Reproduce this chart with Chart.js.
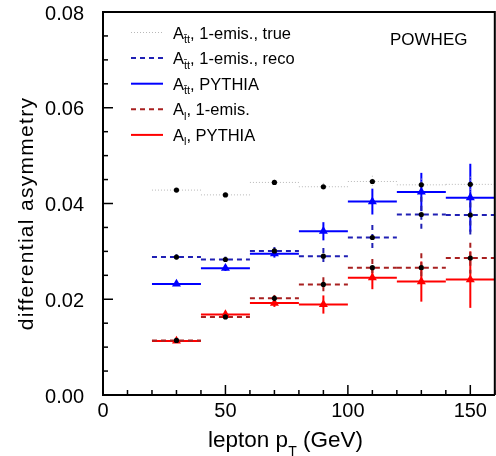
<!DOCTYPE html>
<html lang="en">
<head>
    <meta charset="UTF-8">
    <title>Differential asymmetry vs lepton pT</title>
    <script src="https://cdn.jsdelivr.net/npm/chart.js@4.4.0/dist/chart.umd.min.js"></script>
    <style>
        * {
            margin: 0;
            padding: 0;
            box-sizing: border-box;
        }

        body {
            background: #fff;
            width: 496px;
            height: 456px;
            overflow: hidden;
        }

        .chart-box {
            position: relative;
            width: 500px;
            height: 456px;
        }
    </style>
</head>
<body>
    <div class="chart-box">
        <canvas id="asymChart" width="500" height="456"></canvas>
    </div>

    <script>
        // Bins in lepton pT (GeV)
        const binEdges = [20, 40, 60, 80, 100, 120, 140, 160];
        const binCenters = [30, 50, 70, 90, 110, 130, 150];

        // A_ttbar, 1-emission, true
        const ttTrue = [0.0428, 0.0418, 0.0444, 0.0435, 0.0446, 0.0439, 0.0440];
        const ttTrueErr = [0.0003, 0.0004, 0.0006, 0.0008, 0.0012, 0.0013, 0.0016];
        // A_ttbar, 1-emission, reco
        const ttReco = [0.0288, 0.0283, 0.0301, 0.0290, 0.0329, 0.0377, 0.0376];
        const ttRecoErr = [0.0006, 0.0006, 0.0008, 0.0017, 0.0026, 0.0037, 0.0045];
        // A_ttbar, PYTHIA
        const ttPythia = [0.0232, 0.0265, 0.0295, 0.0342, 0.0404, 0.0424, 0.0412];
        const ttPythiaErr = [0.0004, 0.0006, 0.0008, 0.0019, 0.0027, 0.0040, 0.0071];
        // A_l, 1-emission
        const lepEmis = [0.0114, 0.0163, 0.0202, 0.0231, 0.0266, 0.0266, 0.0286];
        const lepEmisErr = [0.0004, 0.0006, 0.0007, 0.0015, 0.0018, 0.0030, 0.0032];
        // A_l, PYTHIA
        const lepPythia = [0.0113, 0.0168, 0.0192, 0.0189, 0.0245, 0.0237, 0.0241];
        const lepPythiaErr = [0.0004, 0.0006, 0.0008, 0.0019, 0.0024, 0.0042, 0.0059];

        // Axis ticks
        const xMajorTicks = [0, 50, 100, 150];
        const yMajorTicks = [0, 0.02, 0.04, 0.06, 0.08];
        const xMinorStep = 10;
        const yMinorStep = 0.005;

        // Legend text
        const legendSub = ['t\u0304t', 't\u0304t', 't\u0304t', 'l', 'l'];
        const legendRest = [', 1-emis., true', ', 1-emis., reco', ', PYTHIA', ', 1-emis.', ', PYTHIA'];

        const FONT = "'Liberation Sans', Arial, Helvetica, sans-serif";

        // Drawing styles, in legend order
        const styles = [
            { color: '#b8b8b8', width: 1, dash: [1, 2], point: 'circle', pointColor: '#000', radius: 2.6 },
            { color: '#2020b4', width: 2, dash: [5, 4], point: 'circle', pointColor: '#000', radius: 2.6 },
            { color: '#0000ff', width: 2, dash: [], point: 'triangle', pointColor: '#0000ff', radius: 5.2 },
            { color: '#a82020', width: 2, dash: [5, 4], point: 'circle', pointColor: '#000', radius: 2.6 },
            { color: '#ff0000', width: 2, dash: [], point: 'triangle', pointColor: '#ff0000', radius: 5.2 }
        ];
        const seriesVals = [ttTrue, ttReco, ttPythia, lepEmis, lepPythia];
        const seriesErrs = [ttTrueErr, ttRecoErr, ttPythiaErr, lepEmisErr, lepPythiaErr];
        // solid lines first, dashed on top, like the original
        const lineOrder = [4, 2, 3, 1, 0];

        // Bin widths + error bars, drawn under the markers
        const binPlugin = {
            id: 'binLines',
            beforeDatasetsDraw(chart) {
                const { ctx, scales: { x, y } } = chart;
                ctx.save();
                lineOrder.forEach(k => {
                    const st = styles[k];
                    ctx.strokeStyle = st.color;
                    ctx.lineWidth = st.width;
                    ctx.setLineDash(st.dash);
                    seriesVals[k].forEach((v, i) => {
                        const py = y.getPixelForValue(v);
                        const px = x.getPixelForValue(binCenters[i]);
                        ctx.beginPath();
                        ctx.moveTo(x.getPixelForValue(binEdges[i]), py);
                        ctx.lineTo(x.getPixelForValue(binEdges[i + 1]), py);
                        ctx.stroke();
                        ctx.beginPath();
                        ctx.moveTo(px, y.getPixelForValue(v + seriesErrs[k][i]));
                        ctx.lineTo(px, y.getPixelForValue(v - seriesErrs[k][i]));
                        ctx.stroke();
                    });
                });
                ctx.restore();
            },
            afterDraw(chart) {
                const { ctx, chartArea: a, scales: { x, y } } = chart;
                ctx.save();
                ctx.strokeStyle = '#000';
                ctx.setLineDash([]);

                // frame top + right
                ctx.lineWidth = 2;
                ctx.beginPath();
                ctx.moveTo(a.left - 1, a.top);
                ctx.lineTo(a.right, a.top);
                ctx.lineTo(a.right, a.bottom);
                ctx.stroke();

                // inward ticks
                ctx.lineWidth = 1.5;
                for (let i = 0; i * xMinorStep <= x.max + 1e-9; i++) {
                    const v = i * xMinorStep;
                    const px = x.getPixelForValue(v);
                    const len = xMajorTicks.includes(v) ? 10 : 5;
                    ctx.beginPath();
                    ctx.moveTo(px, a.bottom);
                    ctx.lineTo(px, a.bottom - len);
                    ctx.stroke();
                }
                for (let i = 0; i * yMinorStep <= y.max + 1e-9; i++) {
                    const py = y.getPixelForValue(i * yMinorStep);
                    const len = i % 4 === 0 ? 10 : 5;
                    ctx.beginPath();
                    ctx.moveTo(a.left, py);
                    ctx.lineTo(a.left + len, py);
                    ctx.stroke();
                }

                // legend
                ctx.fillStyle = '#000';
                ctx.textBaseline = 'alphabetic';
                ctx.textAlign = 'left';
                styles.forEach((st, i) => {
                    const rowY = 32.5 + i * 25.6;
                    ctx.strokeStyle = st.color;
                    ctx.lineWidth = st.width;
                    ctx.setLineDash(st.dash);
                    ctx.beginPath();
                    ctx.moveTo(131, rowY);
                    ctx.lineTo(163, rowY);
                    ctx.stroke();

                    let tx = 173;
                    const base = rowY + 6;
                    ctx.font = '16.5px ' + FONT;
                    ctx.fillText('A', tx, base);
                    tx += ctx.measureText('A').width;
                    ctx.font = '11px ' + FONT;
                    ctx.fillText(legendSub[i], tx, base + 4.5);
                    tx += ctx.measureText(legendSub[i]).width;
                    ctx.font = '16.5px ' + FONT;
                    ctx.fillText(legendRest[i], tx, base);
                });
                ctx.setLineDash([]);

                ctx.font = '17px ' + FONT;
                ctx.fillText('POWHEG', 390, 44.6);

                // x title with subscript
                const main1 = 'lepton p', sub = 'T', main2 = ' (GeV)';
                ctx.font = '22.5px ' + FONT;
                const w1 = ctx.measureText(main1).width;
                const w3 = ctx.measureText(main2).width;
                ctx.font = '14px ' + FONT;
                const w2 = ctx.measureText(sub).width;
                let sx = 285.5 - (w1 + w2 + w3) / 2;
                ctx.font = '22.5px ' + FONT;
                ctx.fillText(main1, sx, 446.5);
                ctx.font = '14px ' + FONT;
                ctx.fillText(sub, sx + w1, 455.5);
                ctx.font = '22.5px ' + FONT;
                ctx.fillText(main2, sx + w1 + w2, 446.5);

                // y title
                ctx.translate(33, 213.5);
                ctx.rotate(-Math.PI / 2);
                ctx.textAlign = 'center';
                ctx.font = '21px ' + FONT;
                ctx.letterSpacing = '1.3px';
                ctx.fillText('differential asymmetry', 0, 0);
                ctx.restore();
            }
        };

        const datasets = styles.map((st, k) => ({
            label: legendRest[k],
            data: binCenters.map((c, i) => ({ x: c, y: seriesVals[k][i] })),
            showLine: false,
            pointStyle: st.point,
            pointRadius: st.radius,
            pointBackgroundColor: st.pointColor,
            pointBorderColor: st.pointColor,
            pointBorderWidth: 0,
            order: st.point === 'circle' ? 0 : 1
        }));

        const ctx = document.getElementById('asymChart').getContext('2d');
        new Chart(ctx, {
            type: 'scatter',
            data: { datasets },
            options: {
                responsive: false,
                animation: false,
                devicePixelRatio: 1,
                layout: { padding: { top: 12, right: 2.4, left: 0, bottom: 0 } },
                plugins: {
                    legend: { display: false },
                    tooltip: { enabled: false }
                },
                scales: {
                    x: {
                        type: 'linear',
                        min: 0,
                        max: 160,
                        grid: { display: false },
                        border: { display: true, color: '#000', width: 2 },
                        ticks: {
                            color: '#000',
                            font: { family: FONT, size: 20 },
                            padding: -4,
                            maxRotation: 0,
                            autoSkip: false
                        },
                        afterBuildTicks: s => { s.ticks = xMajorTicks.map(v => ({ value: v })); },
                        afterFit: s => {
                            s.height = 61;
                            s.paddingLeft = 0;
                            s.paddingRight = 0;
                        }
                    },
                    y: {
                        type: 'linear',
                        min: 0,
                        max: 0.08,
                        grid: { display: false },
                        border: { display: true, color: '#000', width: 2 },
                        ticks: {
                            color: '#000',
                            font: { family: FONT, size: 20 },
                            padding: 11,
                            labelOffset: 2,
                            callback: v => v.toFixed(2)
                        },
                        afterBuildTicks: s => { s.ticks = yMajorTicks.map(v => ({ value: v })); },
                        afterFit: s => {
                            s.width = 103;
                            s.paddingTop = 0;
                            s.paddingBottom = 0;
                        }
                    }
                }
            },
            plugins: [binPlugin]
        });
    </script>
</body>
</html>
